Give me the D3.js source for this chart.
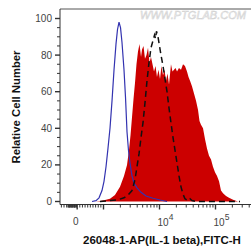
<!DOCTYPE html>
<html>
<head>
<meta charset="utf-8">
<script src="https://cdn.jsdelivr.net/npm/d3@7"></script>
<style>
  body { margin: 0; background: #fff; }
  text { font-family: "Liberation Sans", Arial, sans-serif; }
</style>
</head>
<body>
<div id="chart"></div>
<script>
// Chart size
var svgWidth = 251;
var svgHeight = 248;

// x values are in display decades (log10 of FITC-H), y values are % of max
var blueX = [2.795, 2.866, 2.920, 2.973, 3.009, 3.045, 3.080, 3.116, 3.152, 3.188, 3.223, 3.250, 3.277, 3.304,
  3.330, 3.366, 3.393, 3.420, 3.446, 3.473, 3.509, 3.545, 3.598, 3.670, 3.759, 3.884, 4.009, 4.134];
var blueY = [0, 0.5, 2, 6, 11, 19, 29, 40, 55, 72, 86, 94, 98, 95,
  87, 72, 57, 38, 28, 21, 14, 10, 7.5, 5, 3, 1.8, 0.8, 0];

var redX = [2.866, 2.938, 3.027, 3.116, 3.205, 3.295, 3.366, 3.420, 3.455, 3.482, 3.509, 3.536, 3.563, 3.589,
  3.616, 3.643, 3.670, 3.688, 3.714, 3.741, 3.768, 3.795, 3.821, 3.848, 3.875, 3.902, 3.929, 3.955,
  3.982, 4.009, 4.036, 4.063, 4.089, 4.116, 4.143, 4.170, 4.205, 4.232, 4.259, 4.286, 4.313, 4.348,
  4.384, 4.420, 4.455, 4.491, 4.518, 4.545, 4.580, 4.616, 4.652, 4.688, 4.714, 4.741, 4.777, 4.813,
  4.848, 4.884, 4.920, 4.955, 4.991, 5.027, 5.063, 5.098, 5.134, 5.188, 5.241, 5.313, 5.402];
var redY = [0, 0.3, 0.8, 1.5, 3.5, 8, 14, 20, 28, 36, 46, 56, 65, 75,
  82, 86, 79, 83, 85, 78, 80, 84, 76, 79, 75, 71, 74, 68,
  72, 67, 74, 69, 72, 66, 70, 64, 75, 71, 72, 73, 71, 73,
  72, 75, 74, 71, 68, 66, 63, 59, 55, 50, 44, 42, 40, 34,
  29, 25, 23, 19, 16, 14, 11, 6, 4.5, 3, 2, 1, 0];

var dashX = [2.938, 3.116, 3.259, 3.366, 3.438, 3.509, 3.563, 3.598, 3.634, 3.670, 3.705, 3.741, 3.777,
  3.813, 3.848, 3.884, 3.911, 3.929, 3.946, 3.973, 4.000, 4.027, 4.063, 4.098, 4.134, 4.170, 4.205,
  4.241, 4.277, 4.313, 4.348, 4.384, 4.420, 4.455, 4.509, 4.545, 4.580, 4.652, 5.438];
var dashY = [0, 0.5, 1, 2, 3.5, 6, 12, 19, 26, 35, 43, 54, 66,
  76, 84, 88, 91, 89, 93, 90, 85, 80, 74, 67, 60, 51, 43,
  35, 28, 21, 14, 8, 4, 1.5, 0.5, 1.5, 0.5, 0, 0];

// tick labels
var yTicks = [0, 20, 40, 60, 80, 100];
var xDecades = [3, 4, 5];
var xDecadeLabels = ["", "4", "5"];
var zeroLabel = "0";

// Set margins for chart
var margin = { top: 9, left: 60, axisY: 204.5 };

var svg = d3.select("#chart")
  .append("svg")
  .attr("width", svgWidth)
  .attr("height", svgHeight);

// scales
var xScale = d3.scaleLinear().domain([3, 5]).range([103.5, 215.5]);
var yScale = d3.scaleLinear().domain([0, 100]).range([201.5, 18.5]);

// linear part of the biexponential axis (below 10^3)
var zeroD = 2.53;
function linToD(v) { return zeroD + (v / 1000) * (3 - zeroD); }

// watermark
svg.append("text")
  .attr("x", 140)
  .attr("y", 19)
  .attr("font-size", 11)
  .attr("font-style", "italic")
  .attr("fill", "#f4f4f4")
  .attr("stroke", "#d0d0d0")
  .attr("stroke-width", 0.5)
  .text("WWW.PTGLAB.COM");

var line = d3.line()
  .x(d => xScale(d[0]))
  .y(d => yScale(d[1]))
  .curve(d3.curveLinear);

var area = d3.area()
  .x(d => xScale(d[0]))
  .y0(yScale(0))
  .y1(d => yScale(d[1]))
  .curve(d3.curveLinear);

// red filled histogram
svg.append("path")
  .datum(d3.zip(redX, redY))
  .attr("d", area)
  .attr("fill", "#cc0000");

// blue control
svg.append("path")
  .datum(d3.zip(blueX, blueY))
  .attr("d", line)
  .attr("fill", "none")
  .attr("stroke", "#3333b0")
  .attr("stroke-width", 1.2);

// black dashed
svg.append("path")
  .datum(d3.zip(dashX, dashY))
  .attr("d", line)
  .attr("fill", "none")
  .attr("stroke", "#111")
  .attr("stroke-width", 1.5)
  .attr("stroke-dasharray", "6,4");

// frame top
svg.append("line")
  .attr("x1", margin.left).attr("x2", svgWidth)
  .attr("y1", margin.top).attr("y2", margin.top)
  .attr("stroke", "#555").attr("stroke-width", 1);

// y axis
var yAxisG = svg.append("g");
yAxisG.append("line")
  .attr("x1", margin.left).attr("x2", margin.left)
  .attr("y1", margin.top).attr("y2", margin.axisY)
  .attr("stroke", "#333");
yAxisG.selectAll(".yminor")
  .data(d3.range(0, 101, 5))
  .enter().append("line")
  .attr("x1", d => d % 20 === 0 ? margin.left - 5 : margin.left - 3)
  .attr("x2", margin.left)
  .attr("y1", d => yScale(d)).attr("y2", d => yScale(d))
  .attr("stroke", "#333")
  .attr("stroke-width", d => d % 20 === 0 ? 1.4 : 1);
yAxisG.selectAll(".ylab")
  .data(yTicks)
  .enter().append("text")
  .attr("x", margin.left - 8)
  .attr("y", d => yScale(d))
  .attr("dy", "0.35em")
  .attr("text-anchor", "end")
  .attr("font-size", 10)
  .attr("fill", "#444")
  .text(d => d);

// x axis
var xAxisG = svg.append("g");
xAxisG.append("line")
  .attr("x1", margin.left).attr("x2", svgWidth)
  .attr("y1", margin.axisY).attr("y2", margin.axisY)
  .attr("stroke", "#333");

var minorD = [];
[3, 4, 5].forEach(function(dec) {
  d3.range(2, 10).forEach(function(k) { minorD.push(dec + Math.log10(k)); });
});
d3.range(-600, 1000, 100).forEach(function(v) { if (v !== 0) minorD.push(linToD(v)); });
d3.range(-350, 0, 25).forEach(function(v) { minorD.push(linToD(v)); });
minorD = minorD.filter(d => xScale(d) > margin.left + 1 && xScale(d) < svgWidth);

xAxisG.selectAll(".xminor")
  .data(minorD)
  .enter().append("line")
  .attr("x1", d => xScale(d)).attr("x2", d => xScale(d))
  .attr("y1", margin.axisY).attr("y2", margin.axisY + 3)
  .attr("stroke", "#333");

xAxisG.selectAll(".xmajor")
  .data(xDecades.concat([zeroD]))
  .enter().append("line")
  .attr("x1", d => xScale(d)).attr("x2", d => xScale(d))
  .attr("y1", margin.axisY).attr("y2", margin.axisY + 5)
  .attr("stroke", "#333")
  .attr("stroke-width", 1.4);

xAxisG.append("text")
  .attr("x", xScale(zeroD) - 1.5)
  .attr("y", 225)
  .attr("text-anchor", "middle")
  .attr("font-size", 10)
  .attr("fill", "#444")
  .text(zeroLabel);

xDecades.forEach(function(dec, i) {
  if (!xDecadeLabels[i]) return;
  var t = xAxisG.append("text")
    .attr("x", xScale(dec) - 2)
    .attr("y", 226)
    .attr("font-size", 10)
    .attr("fill", "#444");
  t.append("tspan").text("10");
  t.append("tspan")
    .attr("dy", -6)
    .attr("font-size", 8.5)
    .text(xDecadeLabels[i]);
});

// axis titles
svg.append("text")
  .attr("x", 162)
  .attr("y", 244)
  .attr("text-anchor", "middle")
  .attr("font-size", 11.5)
  .attr("font-weight", "bold")
  .attr("fill", "#111")
  .text("26048-1-AP(IL-1 beta),FITC-H");

svg.append("text")
  .attr("transform", "translate(19.5,107) rotate(-90)")
  .attr("text-anchor", "middle")
  .attr("font-size", 11.3)
  .attr("font-weight", "bold")
  .attr("fill", "#111")
  .text("Relative Cell Number");
</script>
</body>
</html>
